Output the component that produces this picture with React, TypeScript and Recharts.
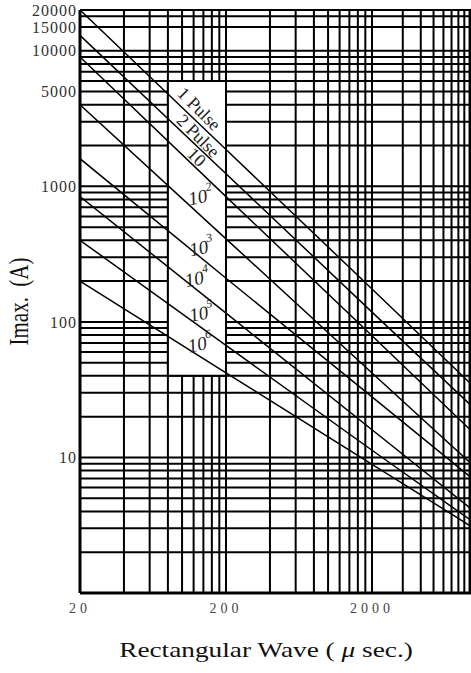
import React from "react"
import {
  LineChart,
  Line,
  XAxis,
  YAxis,
  CartesianGrid,
  ReferenceArea,
  ReferenceDot,
} from "recharts"

// rectangular wave width (µs) at which each curve is read
const widths = [20, 200, 2000, 20000]

// Imax (A) for each pulse count, read at the widths above
const pulse1 = [20000, 1870, 175, 33]
const pulse2 = [13000, 1240, 118, 23]
const pulse10 = [9000, 840, 79, 15]
const pulse1e2 = [4000, 410, 42, 8.6]
const pulse1e3 = [1600, 210, 28, 6.8]
const pulse1e4 = [840, 116, 16, 4.0]
const pulse1e5 = [400, 67, 11.3, 3.3]
const pulse1e6 = [200, 42, 8.9, 3.0]

const curves = [pulse1, pulse2, pulse10, pulse1e2, pulse1e3, pulse1e4, pulse1e5, pulse1e6]
const curveText = ["1 Pulse", "2 Pulse", "10", "10", "10", "10", "10", "10"]
const curveSup = ["", "", "", "2", "3", "4", "5", "6"]

const gridX = [
  20, 40, 60, 80, 100, 120, 140, 160, 180, 200,
  400, 600, 800, 1000, 1200, 1400, 1600, 1800, 2000,
  4000, 6000, 8000, 10000, 12000, 14000, 16000, 18000,
]
const gridY = [
  1, 2, 3, 4, 5, 6, 7, 8, 9,
  10, 20, 30, 40, 50, 60, 70, 80, 90,
  100, 200, 300, 400, 500, 600, 700, 800, 900,
  1000, 2000, 3000, 4000, 5000, 6000, 7000, 8000, 9000,
  10000, 15000, 18000, 20000,
]
const xLabels = [20, 200, 2000]
const yLabels = [10, 100, 1000, 5000, 10000, 15000, 20000]

// the printed sheet squeezes the last decade of the time axis
const LAST_DECADE = 0.7
const toPos = (t: number) =>
  t <= 2000 ? Math.log10(t / 20) : 2 + LAST_DECADE * Math.log10(t / 2000)
const X_MAX = 2.678

// where the curve names sit inside the white box: [µs, A, angle]
const labelSpots: [number, number, number][] = [
  [131, 3725, 45],
  [129, 2360, 45],
  [126, 1640, 45],
  [134, 840, -12],
  [136, 354, -12],
  [127, 210, -12],
  [136, 116, -12],
  [133, 69, -12],
]

const serif = "'Liberation Serif', 'DejaVu Serif', serif"

function xTick(v: number) {
  const t = gridX.find((g) => Math.abs(toPos(g) - v) < 1e-6)
  return t !== undefined && xLabels.includes(t) ? String(t) : ""
}

function yTick(v: number) {
  return yLabels.includes(v) ? String(v) : ""
}

function XTitle(props: any) {
  const vb = props.viewBox || { x: 80, y: 593 }
  return (
    <text
      transform={`translate(${vb.x + 186},${vb.y + 64}) scale(1.3,1)`}
      textAnchor="middle"
      fontFamily={serif}
      fontSize={21}
      fill="#111"
    >
      Rectangular Wave ( <tspan fontStyle="italic">μ</tspan> sec.)
    </text>
  )
}

function YTitle(props: any) {
  const vb = props.viewBox || { x: 0, y: 10, height: 583 }
  return (
    <text
      transform={`translate(18,${vb.y + vb.height / 2}) scale(1.3,1) rotate(-90)`}
      textAnchor="middle"
      dominantBaseline="central"
      fontFamily={serif}
      fontSize={21}
      fill="#111"
    >
      {"Imax.\u00a0\u00a0(A)"}
    </text>
  )
}

function curveLabel(k: number) {
  return (p: any) => {
    const angle = labelSpots[k][2]
    const italic = curveSup[k] !== ""
    return (
      <text
        x={p.cx}
        y={p.cy}
        transform={`rotate(${angle},${p.cx},${p.cy})`}
        textAnchor="middle"
        dominantBaseline="central"
        fontFamily={serif}
        fontSize={italic ? 19 : 18}
        fontStyle={italic ? "italic" : "normal"}
        fill="#222"
      >
        {curveText[k]}
        {italic && (
          <tspan dy={-8} fontSize={12}>
            {curveSup[k]}
          </tspan>
        )}
      </text>
    )
  }
}

export default function App() {
  return (
    <div style={{ position: "absolute", left: 0, top: 0, background: "#fff" }}>
      <LineChart
        width={471}
        height={673}
        margin={{ top: 10, right: 0, left: 0, bottom: 50 }}
      >
        <CartesianGrid stroke="#000" strokeWidth={2} />
        <XAxis
          type="number"
          dataKey="x"
          domain={[0, X_MAX]}
          allowDataOverflow
          ticks={gridX.map(toPos)}
          interval={0}
          tickFormatter={xTick}
          tickLine={false}
          tickSize={0}
          tickMargin={10}
          height={30}
          axisLine={{ stroke: "#000", strokeWidth: 3 }}
          tick={{ fontFamily: serif, fontSize: 14, fill: "#444", letterSpacing: 4 }}
          label={<XTitle />}
        />
        <YAxis
          type="number"
          scale="log"
          domain={[1, 20000]}
          allowDataOverflow
          ticks={gridY}
          interval={0}
          tickFormatter={yTick}
          tickLine={false}
          tickSize={0}
          tickMargin={3}
          width={80}
          axisLine={{ stroke: "#000", strokeWidth: 3 }}
          tick={{ fontFamily: serif, fontSize: 16, fill: "#333", letterSpacing: 1 }}
          label={<YTitle />}
        />
        <ReferenceArea
          x1={toPos(80)}
          x2={toPos(200)}
          y1={40}
          y2={6000}
          fill="#fff"
          fillOpacity={1}
          stroke="#000"
          strokeWidth={2}
        />
        {curves.map((vals, k) => (
          <Line
            key={k}
            data={vals.map((v, j) => ({ x: toPos(widths[j]), i: v }))}
            dataKey="i"
            type="linear"
            stroke="#000"
            strokeWidth={1.5}
            dot={false}
            activeDot={false}
            isAnimationActive={false}
          />
        ))}
        {labelSpots.map((s, k) => (
          <ReferenceDot
            key={k}
            x={toPos(s[0])}
            y={s[1]}
            r={0}
            shape={curveLabel(k)}
          />
        ))}
      </LineChart>
    </div>
  )
}
